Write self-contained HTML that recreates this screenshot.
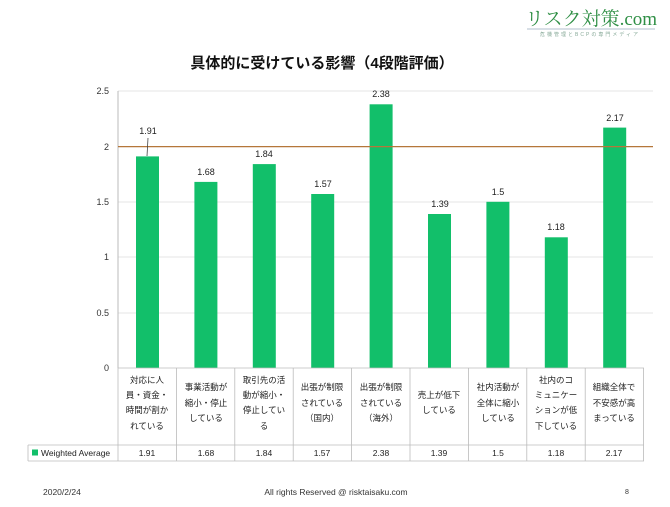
<!DOCTYPE html>
<html><head><meta charset="utf-8"><style>
body{margin:0;background:#fff;}
svg text{font-family:"Liberation Sans","Noto Sans CJK JP",sans-serif;}
</style></head><body>
<svg width="670" height="502" viewBox="0 0 670 502" xmlns="http://www.w3.org/2000/svg">
<rect width="670" height="502" fill="#fff"/>
<text x="591" y="25" font-size="19" fill="#2f8f45" text-anchor="middle" style="font-family:'Liberation Serif','Noto Serif CJK SC',serif">リスク対策.com</text>
<line x1="527" y1="29" x2="655" y2="29" stroke="#9ab" stroke-width="0.8"/>
<text x="590" y="36" font-size="5" fill="#8a9" text-anchor="middle" letter-spacing="2">危機管理とBCPの専門メディア</text>
<text x="322" y="68" font-size="15" font-weight="bold" fill="#111" text-anchor="middle">具体的に受けている影響（4段階評価）</text>
<g stroke="#ddd" stroke-width="0.8">
<line x1="118" y1="91" x2="653" y2="91"/>
<line x1="118" y1="202" x2="653" y2="202"/>
<line x1="118" y1="257" x2="653" y2="257"/>
<line x1="118" y1="313" x2="653" y2="313"/>
</g>
<line x1="118" y1="91" x2="118" y2="368" stroke="#bbb"/>
<g font-size="9" fill="#333" text-anchor="end">
<text x="109" y="94">2.5</text><text x="109" y="150">2</text><text x="109" y="205">1.5</text>
<text x="109" y="260">1</text><text x="109" y="316">0.5</text><text x="109" y="371">0</text>
</g>
<g fill="#12bf6a">
<rect x="136" y="156.4" width="23" height="211.6"/>
<rect x="194.4" y="181.9" width="23" height="186.1"/>
<rect x="252.8" y="164.1" width="23" height="203.9"/>
<rect x="311.2" y="194.0" width="23" height="174.0"/>
<rect x="369.6" y="104.3" width="23" height="263.7"/>
<rect x="428.0" y="214.0" width="23" height="154.0"/>
<rect x="486.4" y="201.8" width="23" height="166.2"/>
<rect x="544.8" y="237.3" width="23" height="130.7"/>
<rect x="603.2" y="127.6" width="23" height="240.4"/>
</g>
<line x1="118" y1="146.6" x2="653" y2="146.6" stroke="#b5773a" stroke-width="1.3"/>
<line x1="148" y1="138" x2="147" y2="156" stroke="#444" stroke-width="0.8"/>
<g font-size="9" fill="#222" text-anchor="middle">
<text x="148" y="134">1.91</text><text x="206" y="175">1.68</text><text x="264" y="157">1.84</text>
<text x="323" y="187">1.57</text><text x="381" y="97">2.38</text><text x="440" y="207">1.39</text>
<text x="498" y="195">1.5</text><text x="556" y="230">1.18</text><text x="615" y="121">2.17</text>
</g>
<g stroke="#bbb" stroke-width="0.8" fill="none">
<line x1="118" y1="368" x2="644" y2="368"/>
<line x1="28" y1="445" x2="644" y2="445"/>
<line x1="28" y1="461" x2="644" y2="461"/>
<line x1="28" y1="445" x2="28" y2="461"/>
<line x1="118" y1="368" x2="118" y2="461"/>
<line x1="176.4" y1="368" x2="176.4" y2="461"/><line x1="234.8" y1="368" x2="234.8" y2="461"/>
<line x1="293.2" y1="368" x2="293.2" y2="461"/><line x1="351.6" y1="368" x2="351.6" y2="461"/>
<line x1="410" y1="368" x2="410" y2="461"/><line x1="468.4" y1="368" x2="468.4" y2="461"/>
<line x1="526.8" y1="368" x2="526.8" y2="461"/><line x1="585.2" y1="368" x2="585.2" y2="461"/>
<line x1="643.6" y1="368" x2="643.6" y2="461"/>
</g>
<g font-size="8.5" fill="#222" text-anchor="middle">
<text x="147" y="383">対応に人</text><text x="147" y="398">員・資金・</text><text x="147" y="413">時間が割か</text><text x="147" y="429">れている</text>
<text x="206" y="390">事業活動が</text><text x="206" y="406">縮小・停止</text><text x="206" y="421">している</text>
<text x="264" y="383">取引先の活</text><text x="264" y="398">動が縮小・</text><text x="264" y="413">停止してい</text><text x="264" y="429">る</text>
<text x="322" y="390">出張が制限</text><text x="322" y="406">されている</text><text x="322" y="421">（国内）</text>
<text x="381" y="390">出張が制限</text><text x="381" y="406">されている</text><text x="381" y="421">（海外）</text>
<text x="439" y="398">売上が低下</text><text x="439" y="413">している</text>
<text x="498" y="390">社内活動が</text><text x="498" y="406">全体に縮小</text><text x="498" y="421">している</text>
<text x="556" y="383">社内のコ</text><text x="556" y="398">ミュニケー</text><text x="556" y="413">ションが低</text><text x="556" y="429">下している</text>
<text x="614" y="390">組織全体で</text><text x="614" y="406">不安感が高</text><text x="614" y="421">まっている</text>
</g>
<rect x="32" y="449.5" width="6" height="6" fill="#12bf6a"/>
<text x="41" y="456" font-size="8.5" fill="#222">Weighted Average</text>
<g font-size="8.5" fill="#222" text-anchor="middle">
<text x="147" y="456">1.91</text><text x="206" y="456">1.68</text><text x="264" y="456">1.84</text>
<text x="322" y="456">1.57</text><text x="381" y="456">2.38</text><text x="439" y="456">1.39</text>
<text x="498" y="456">1.5</text><text x="556" y="456">1.18</text><text x="614" y="456">2.17</text>
</g>
<text x="43" y="495" font-size="8.5" fill="#333">2020/2/24</text>
<text x="336" y="495" font-size="8.5" fill="#333" text-anchor="middle">All rights Reserved @ risktaisaku.com</text>
<text x="627" y="494" font-size="7" fill="#333" text-anchor="middle">8</text>
</svg>
</body></html>
